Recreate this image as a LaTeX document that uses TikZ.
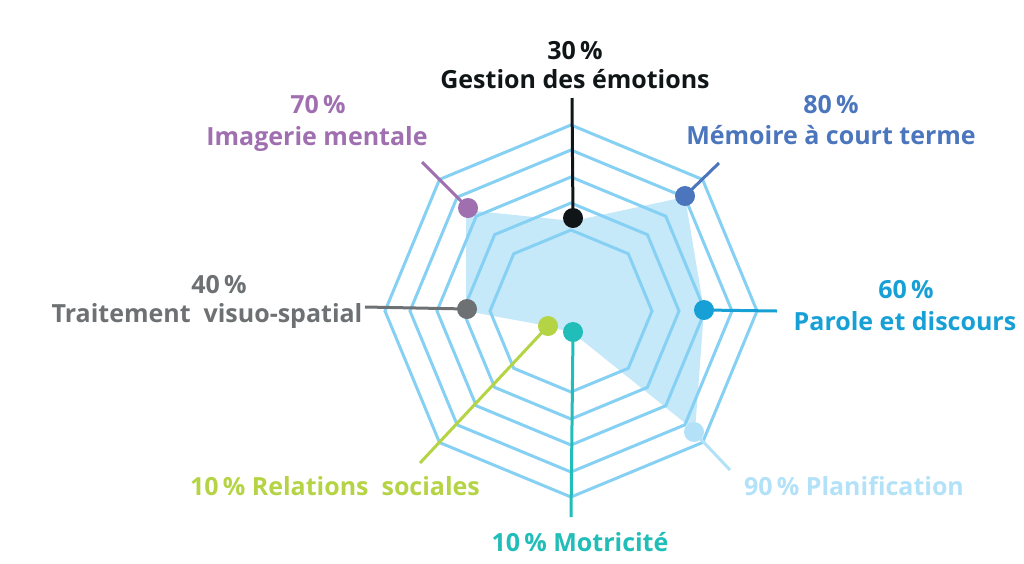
\documentclass[tikz,border=0pt]{standalone}
\usepackage{fontspec}
\setmainfont{Open Sans}
\definecolor{ringc}{HTML}{86D1F3}
\definecolor{fillc}{HTML}{C6E9FA}
\definecolor{cgest}{HTML}{101618}
\definecolor{cmem}{HTML}{4B76BD}
\definecolor{cpar}{HTML}{17A0D6}
\definecolor{cplan}{HTML}{B3E2F8}
\definecolor{cmot}{HTML}{21BDB8}
\definecolor{crel}{HTML}{B5D445}
\definecolor{ctrait}{HTML}{6E7173}
\definecolor{cimg}{HTML}{9F6FB0}
\begin{document}
\begin{tikzpicture}[x=1pt,y=-1pt,
  ring/.style={draw=ringc, line width=3pt},
  leader/.style={line width=3pt},
  dot/.style={circle, inner sep=0pt, minimum size=20pt},
  lab/.style={font=\fontsize{25}{29}\selectfont\bfseries, anchor=base, inner sep=0pt},
]
\useasboundingbox (0,0) rectangle (1024,563);
% filled data area
\fill[fillc] (466,210) -- (573,221) -- (685,197) -- (704,310) -- (695,431) -- (573,333) -- (548,326) -- (466,311) -- cycle;
% rings
\foreach \r in {81,108,134,161,186}{
  \draw[ring, shift={(571,311)}] (0:\r) -- (45:\r) -- (90:\r) -- (135:\r) -- (180:\r) -- (225:\r) -- (270:\r) -- (315:\r) -- cycle;
}
% dots (positions)
\node[dot] (dgest) at (573,218) {};
\node[dot] (dmem) at (685,196) {};
\node[dot] (dpar) at (704,310) {};
\node[dot] (dplan) at (694,432) {};
\node[dot] (dmot) at (573,332) {};
\node[dot] (drel) at (548,326) {};
\node[dot] (dtrait) at (467,309) {};
\node[dot] (dimg) at (468,208) {};
% leader ends
\coordinate (egest) at (572,98);
\coordinate (emem) at (719,163);
\coordinate (epar) at (777,311);
\coordinate (eplan) at (730,470);
\coordinate (emot) at (571,517);
\coordinate (erel) at (420,463);
\coordinate (etrait) at (365,307);
\coordinate (eimg) at (422,162);
\draw[leader, cgest] (dgest.center) -- (egest);
\draw[leader, cmem] (dmem.center) -- (emem);
\draw[leader, cpar] (dpar.center) -- (epar);
\draw[leader, cplan] (dplan.center) -- (eplan);
\draw[leader, cmot] (dmot.center) -- (emot);
\draw[leader, crel] (drel.center) -- (erel);
\draw[leader, ctrait] (dtrait.center) -- (etrait);
\draw[leader, cimg] (dimg.center) -- (eimg);
% dots on top
\foreach \n/\c in {dgest/cgest,dmem/cmem,dpar/cpar,dplan/cplan,dmot/cmot,drel/crel,dtrait/ctrait,dimg/cimg}{
  \fill[\c] (\n.center) circle (10pt);
}
% labels
\node[lab, text=cgest] (pgest) at (575,59) {30\,\%};
\node[lab, text=cgest] (tgest) at (575,88) {Gestion des émotions};
\node[lab, text=cmem] (pmem) at (831,113) {80\,\%};
\node[lab, text=cmem] (tmem) at (831,144) {Mémoire à court terme};
\node[lab, text=cpar] (ppar) at (906,298) {60\,\%};
\node[lab, text=cpar] (tpar) at (905,330) {Parole et discours};
\node[lab, text=ctrait] (ptrait) at (219,293) {40\,\%};
\node[lab, text=ctrait] (ttrait) at (207,322) {Traitement\ \ visuo-spatial};
\node[lab, text=cimg] (pimg) at (318,113) {70\,\%};
\node[lab, text=cimg] (timg) at (317,145) {Imagerie mentale};
\node[lab, text=crel] (trel) at (335,495) {10\,\% Relations\ \ sociales};
\node[lab, text=cmot] (tmot) at (580,551) {10\,\% Motricité};
\node[lab, text=cplan] (tplan) at (854,495) {90\,\% Planification};
\end{tikzpicture}
\end{document}
